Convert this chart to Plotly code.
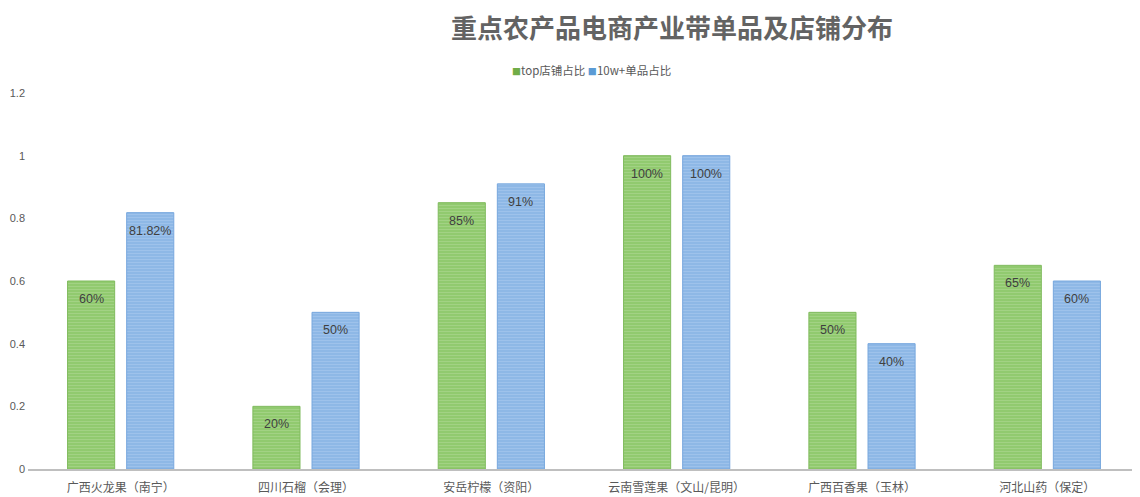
import plotly.graph_objects as go

categories = ["广西火龙果（南宁）", "四川石榴（会理）", "安岳柠檬（资阳）",
              "云南雪莲果（文山/昆明）", "广西百香果（玉林）", "河北山药（保定）"]
top_shop = [0.60, 0.20, 0.85, 1.00, 0.50, 0.65]
top_shop_labels = ["60%", "20%", "85%", "100%", "50%", "65%"]
item_10w = [0.8182, 0.50, 0.91, 1.00, 0.40, 0.60]
item_10w_labels = ["81.82%", "50%", "91%", "100%", "40%", "60%"]

y_ticks = [0, 0.2, 0.4, 0.6, 0.8, 1.0, 1.2]
y_tick_text = ["0", "0.2", "0.4", "0.6", "0.8", "1", "1.2"]

FONT = "Noto Sans CJK SC"
NUM_FONT = "Liberation Sans"

fig = go.Figure()

fig.add_trace(go.Bar(
    x=categories, y=top_shop, name="top店铺占比",
    marker=dict(
        color="#8fc96d",
        line=dict(color="#80bb5e", width=1),
        pattern=dict(shape="-", fgcolor="#b5dc9c", size=3, solidity=0.4),
    ),
))

fig.add_trace(go.Bar(
    x=categories, y=item_10w, name="10w+单品占比",
    marker=dict(
        color="#8cb6e6",
        line=dict(color="#78a8de", width=1),
        pattern=dict(shape="-", fgcolor="#b0cdf0", size=3, solidity=0.4),
    ),
))

# value labels sit a little below the top of each bar
labels = []
for vals, texts, shift in [(top_shop, top_shop_labels, -29.5),
                           (item_10w, item_10w_labels, 29.5)]:
    for cat, v, t in zip(categories, vals, texts):
        labels.append(dict(x=cat, y=v, xref="x", yref="y", text=t,
                           showarrow=False, xshift=shift, yshift=-9,
                           yanchor="top",
                           font=dict(size=12.5, color="#404040", family=NUM_FONT)))

# legend drawn as a compact text line (small squares + names)
legend_text = ("<span style='color:#70ad47;font-size:9px'>■</span>top店铺占比 "
               "<span style='color:#5b9bd5;font-size:9px'>■</span>10w+单品占比")
labels.append(dict(text=legend_text, xref="paper", yref="paper",
                   x=0.507, xanchor="center", y=1.061, yanchor="middle",
                   showarrow=False, font=dict(size=11.5, color="#595959")))

# the page has an 8px body margin, so positions below are shifted by that
fig.update_layout(
    width=1140, height=497,
    paper_bgcolor="white", plot_bgcolor="white",
    font=dict(family=FONT, color="#595959"),
    showlegend=False,
    title=dict(text="<b>重点农产品电商产业带单品及店铺分布</b>",
               x=0.5825, xanchor="center", y=0.958, yanchor="middle",
               font=dict(size=26, color="#636363", family=FONT)),
    annotations=labels,
    barmode="group", bargap=0.362, bargroupgap=0.203,
    margin=dict(l=20, r=8, t=85, b=36),
    xaxis=dict(showgrid=False, showline=True, linecolor="#bfbfbf", linewidth=1.5,
               ticks="", ticklabelstandoff=7,
               tickfont=dict(size=12, color="#595959")),
    yaxis=dict(range=[0, 1.2], tickvals=y_ticks, ticktext=y_tick_text,
               showgrid=False, zeroline=False, showline=False, automargin=False,
               ticklabelstandoff=2,
               tickfont=dict(size=11, color="#595959", family=NUM_FONT)),
)

fig.write_html("out.html")
